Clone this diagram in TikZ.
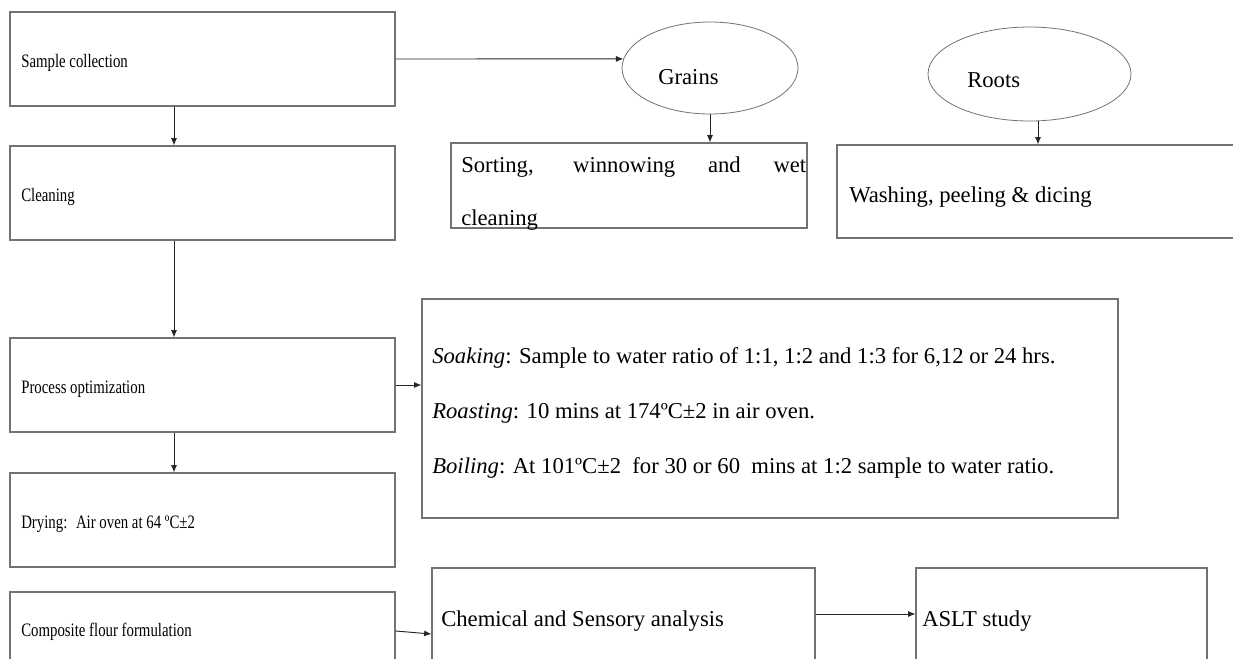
\documentclass[tikz,border=0pt]{standalone}
\usepackage{fontspec}
\usepackage{graphicx}
\setmainfont{Liberation Serif}
\usetikzlibrary{arrows.meta,shapes.geometric}
\tikzset{
  box/.style={draw=black!55, line width=0.8pt, rectangle, inner sep=0pt},
  oval/.style={draw=black!55, line width=0.6pt, ellipse, inner sep=0pt},
  arr/.style={draw=black!85, line width=0.7pt, -{Latex[length=5.5pt,width=4.5pt]}},
  big/.style={font=\fontsize{17}{20}\selectfont, inner sep=0pt, anchor=west},
  small/.style={font=\fontsize{14.25}{17}\selectfont, inner sep=0pt, anchor=west},
}
\newcommand{\sqz}[1]{\scalebox{0.78}[1]{#1}}
\begin{document}
\begin{tikzpicture}[x=0.75pt,y=-0.75pt]
\path[use as bounding box, clip] (0,0) rectangle (1233,658);
\fill[white] (0,0) rectangle (1233,658);

% left column boxes
\node[box, minimum width=288.75pt, minimum height=70.5pt] (sc) at (202.5,59) {};
\node[small] (sct) at (21,63) {\sqz{Sample collection}};
\node[box, minimum width=288.75pt, minimum height=70.5pt] (cl) at (202.5,193) {};
\node[small] (clt) at (21,197) {\sqz{Cleaning}};
\node[box, minimum width=288.75pt, minimum height=70.5pt] (po) at (202.5,385) {};
\node[small] (pot) at (21,389) {\sqz{Process optimization}};
\node[box, minimum width=288.75pt, minimum height=70.5pt] (dr) at (202.5,520) {};
\node[small] (drt) at (21,524) {\sqz{Drying:~ Air oven at 64 ºC±2}};
\node[box, minimum width=288.75pt, minimum height=58.5pt] (cf) at (202.5,631) {};
\node[small] (cft) at (21,632) {\sqz{Composite flour formulation}};

% grains branch
\node[oval, minimum width=132pt, minimum height=69pt] (gr) at (710,68) {};
\node[big] (grt) at (658,77) {Grains};
\node[box, minimum width=267pt, minimum height=63.75pt] (sw) at (629,185.5) {};
\node[big] (swt1) at (461,167) {\makebox[258.75pt][s]{Sorting, winnowing and wet}};
\node[big] (swt2) at (461,220) {cleaning};

% roots branch
\node[oval, minimum width=152.25pt, minimum height=70.5pt] (ro) at (1029.5,74) {};
\node[big] (rot) at (967,80) {Roots};
\node[box, minimum width=309.75pt, minimum height=69.75pt] (wp) at (1043.5,191.5) {};
\node[big] (wpt) at (849,197) {Washing, peeling \& dicing};

% process details
\node[box, minimum width=522pt, minimum height=164.25pt] (so) at (770,408.5) {};
\node[big] (so1) at (432,358) {\textit{Soaking}: Sample to water ratio of 1:1, 1:2 and 1:3 for 6,12 or 24 hrs.};
\node[big] (so2) at (432,413) {\textit{Roasting}: 10 mins at 174ºC±2 in air oven.};
\node[big] (so3) at (432,468) {\textit{Boiling}: At 101ºC±2~ for 30 or 60~ mins at 1:2 sample to water ratio.};

% analysis
\node[box, minimum width=287.25pt, minimum height=76.5pt] (ch) at (623.5,619) {};
\node[big] (cht) at (441,621) {Chemical and Sensory analysis};
\node[box, minimum width=218.25pt, minimum height=76.5pt] (as) at (1061.5,619) {};
\node[big] (ast) at (922,621) {ASLT study};

% connectors
\coordinate (cx) at (174,0);
\coordinate (rx) at (1038,0);
\draw[arr] (sc.south -| cx) -- (cl.north -| cx);
\draw[arr] (cl.south -| cx) -- (po.north -| cx);
\draw[arr] (po.south -| cx) -- (dr.north -| cx);
\draw[arr] (sc.east) -- (gr.174);
\draw[arr] (gr.south) -- (gr.south |- sw.north);
\draw[arr] (ro.south -| rx) -- (wp.north -| rx);
\draw[arr] (po.east) -- (so.west |- po.east);
\draw[arr] (cf.east) -- ([yshift=-11.25pt]ch.west);
\draw[arr] ([yshift=3.75pt]ch.east) -- ([yshift=3.75pt]as.west);
\end{tikzpicture}
\end{document}
